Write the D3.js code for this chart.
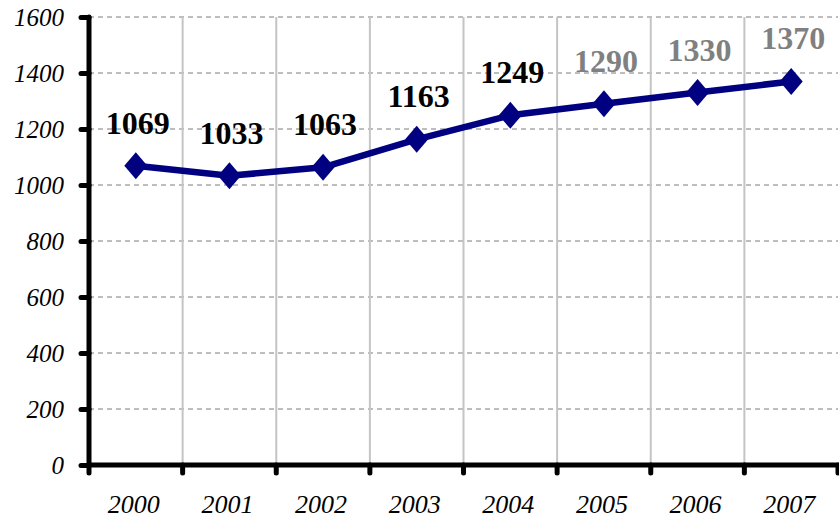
<!DOCTYPE html>
<html>
<head>
<meta charset="utf-8">
<script src="https://cdn.jsdelivr.net/npm/d3@7"></script>
<style>
  body { margin: 0; background: #fff; }
  svg { display: block; }
</style>
</head>
<body>
<div id="chart"></div>
<script>
// Data
const years = ["2000", "2001", "2002", "2003", "2004", "2005", "2006", "2007"];
const values = [1069, 1033, 1063, 1163, 1249, 1290, 1330, 1370];
const labelColors = ["#000", "#000", "#000", "#000", "#000", "#808080", "#808080", "#808080"];
const yTicks = [0, 200, 400, 600, 800, 1000, 1200, 1400, 1600];

const width = 839, height = 519;
const plotLeft = 89, plotRight = 838, plotTop = 17, plotBottom = 465;
const serif = "'Liberation Serif', 'Times New Roman', serif";

const svg = d3.select("#chart").append("svg")
    .attr("width", width)
    .attr("height", height);

const x = d3.scaleBand().domain(years).range([plotLeft, plotRight]);
const y = d3.scaleLinear().domain([0, 1600]).range([plotBottom, plotTop]);

// Horizontal dashed gridlines
svg.append("g")
    .selectAll("line")
    .data(yTicks.slice(1))
    .enter().append("line")
    .attr("x1", plotLeft).attr("x2", plotRight)
    .attr("y1", d => y(d)).attr("y2", d => y(d))
    .attr("stroke", "#bdbdbd")
    .attr("stroke-width", 2)
    .attr("stroke-dasharray", "5,4");

// Vertical gridlines at band boundaries
svg.append("g")
    .selectAll("line")
    .data(years.slice(1))
    .enter().append("line")
    .attr("x1", d => x(d)).attr("x2", d => x(d))
    .attr("y1", plotTop).attr("y2", plotBottom)
    .attr("stroke", "#c4c4c4")
    .attr("stroke-width", 2);

// Y axis
const yAxis = svg.append("g")
    .attr("transform", `translate(${plotLeft},0)`)
    .call(d3.axisLeft(y).tickValues(yTicks).tickFormat(d3.format("d")).tickSize(8).tickPadding(17));
yAxis.select(".domain").remove();
yAxis.selectAll(".tick line")
    .attr("stroke", "#000").attr("stroke-width", 5).attr("stroke-linecap", "round");
yAxis.selectAll(".tick text")
    .style("font-family", serif)
    .style("font-style", "italic")
    .style("font-size", "25px")
    .attr("fill", "#000");

// X axis (ticks at band boundaries)
const xAxis = svg.append("g")
    .attr("transform", `translate(0,${plotBottom})`);
xAxis.selectAll("line")
    .data(years.map(d => x(d)).concat([plotRight]))
    .enter().append("line")
    .attr("x1", d => d).attr("x2", d => d)
    .attr("y1", 0).attr("y2", 8)
    .attr("stroke", "#000").attr("stroke-width", 5).attr("stroke-linecap", "round");
xAxis.selectAll("text")
    .data(years)
    .enter().append("text")
    .attr("x", d => x(d) + x.bandwidth() / 2 - 2)
    .attr("y", 48)
    .attr("text-anchor", "middle")
    .style("font-family", serif)
    .style("font-style", "italic")
    .style("font-size", "26px")
    .text(d => d);

// Axis lines
svg.append("line")
    .attr("x1", plotLeft).attr("x2", plotLeft)
    .attr("y1", plotTop).attr("y2", plotBottom)
    .attr("stroke", "#000").attr("stroke-width", 5).attr("stroke-linecap", "round");
svg.append("line")
    .attr("x1", plotLeft).attr("x2", plotRight)
    .attr("y1", plotBottom).attr("y2", plotBottom)
    .attr("stroke", "#000").attr("stroke-width", 5).attr("stroke-linecap", "round");

// Line
const line = d3.line()
    .x((d, i) => x(years[i]) + x.bandwidth() / 2)
    .y(d => y(d));

svg.append("path")
    .datum(values)
    .attr("fill", "none")
    .attr("stroke", "#000080")
    .attr("stroke-width", 6.5)
    .attr("stroke-linejoin", "round")
    .attr("d", line);

// Diamond markers (slightly taller than wide)
const diamond = {
    draw(ctx, size) {
        const w = 11.5, h = 13.5;
        ctx.moveTo(0, -h);
        ctx.lineTo(w, 0);
        ctx.lineTo(0, h);
        ctx.lineTo(-w, 0);
        ctx.closePath();
    }
};
svg.selectAll(".marker")
    .data(values)
    .enter().append("path")
    .attr("class", "marker")
    .attr("d", d3.symbol().type(diamond))
    .attr("transform", (d, i) => `translate(${x(years[i]) + x.bandwidth() / 2},${y(d)})`)
    .attr("fill", "#000080");

// Data labels
svg.selectAll(".label")
    .data(values)
    .enter().append("text")
    .attr("class", "label")
    .attr("x", (d, i) => x(years[i]) + x.bandwidth() / 2 + 2)
    .attr("y", d => y(d) - 32)
    .attr("text-anchor", "middle")
    .style("font-family", serif)
    .style("font-weight", "bold")
    .style("font-size", "32px")
    .attr("fill", (d, i) => labelColors[i])
    .text(d => d);
</script>
</body>
</html>
